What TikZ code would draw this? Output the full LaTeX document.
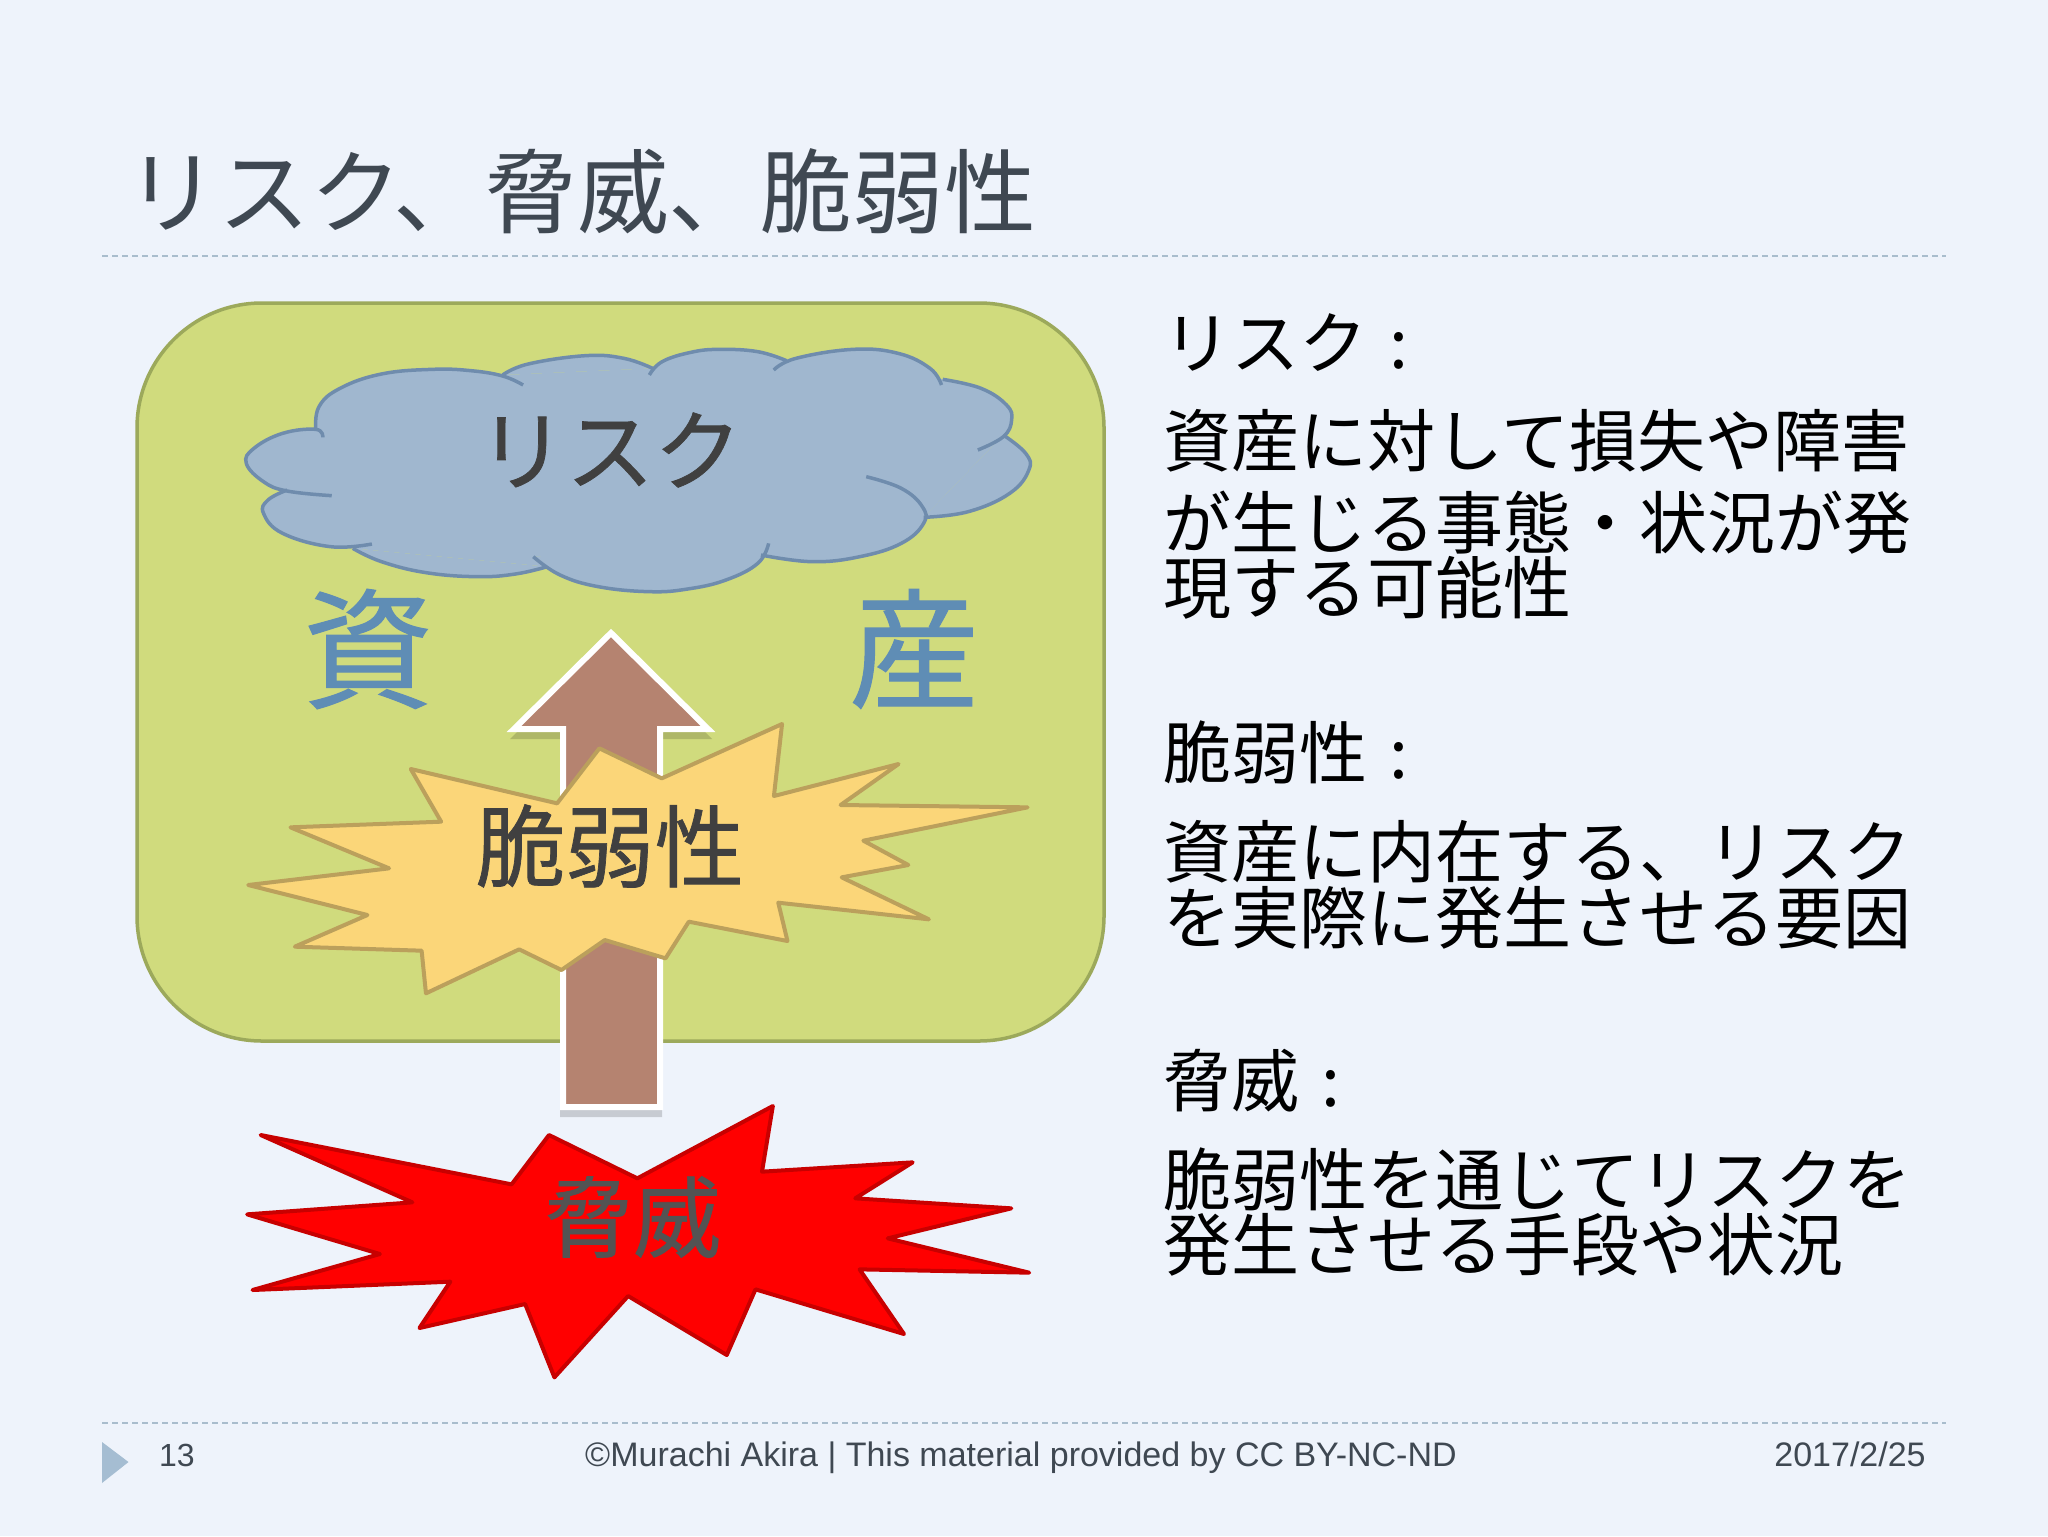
\documentclass[tikz,border=0pt]{standalone}
\usepackage{fontspec}
\setmainfont{Liberation Sans}
\newfontfamily\jp{Noto Sans CJK JP}
\newfontfamily\jph[FakeBold=0.8]{Noto Sans CJK JP}
\definecolor{bgc}{HTML}{EEF3FB}
\definecolor{dashc}{HTML}{A9BDCD}
\definecolor{titlec}{HTML}{3F4852}
\definecolor{assetf}{HTML}{D0DB7D}
\definecolor{assetl}{HTML}{9CA95B}
\definecolor{cloudf}{HTML}{A0B7CF}
\definecolor{cloudl}{HTML}{6F8CAD}
\definecolor{assett}{HTML}{5F8DB5}
\definecolor{arrowf}{HTML}{B58370}
\definecolor{burstf}{HTML}{FBD679}
\definecolor{burstl}{HTML}{BBA05C}
\definecolor{redl}{HTML}{C80000}
\definecolor{labelc}{HTML}{404040}
\definecolor{triac}{HTML}{A5BDD2}
\tikzset{
  body/.style={font=\jp\fontsize{34}{34}\selectfont,text=black,anchor=base west,inner sep=0pt},
  foot/.style={font=\fontsize{17}{17}\selectfont,text=titlec,anchor=base,inner sep=0pt},
  rule/.style={draw=dashc,line width=1pt,dash pattern=on 3pt off 2pt},
  arrowshape/.style={line width=3pt,miter limit=10},
  lobe/.style={smooth,tension=.7},
}
\newcommand{\cloudlobes}[1]{%
  \path[#1] plot[lobe] coordinates{(318,442)(307,418)(255,430)(210,475)(198,520)(225,575)(262,603)(332,617)};
  \path[#1] plot[lobe] coordinates{(262,600)(232,630)(225,670)(255,730)(330,770)(395,762)};
  \path[#1] plot[lobe] coordinates{(365,775)(410,815)(480,848)(560,860)(620,852)(670,830)};
  \path[#1] plot[lobe] coordinates{(648,800)(690,855)(750,890)(830,905)(890,897)(950,870)(1000,820)(1017,760)};
  \path[#1] plot[lobe] coordinates{(1005,795)(1085,815)(1160,800)(1225,760)(1260,700)(1258,650)(1225,595)(1170,560)};
  \path[#1] plot[lobe] coordinates{(1260,682)(1330,665)(1395,610)(1425,540)(1420,490)(1385,435)};
  \path[#1] plot[lobe] coordinates{(1345,480)(1385,440)(1398,390)(1390,345)(1350,295)(1290,268)};
  \path[#1] plot[lobe] coordinates{(1288,285)(1270,235)(1220,190)(1150,178)(1060,205)(1025,240)};
  \path[#1] plot[lobe] coordinates{(1045,212)(1000,185)(940,178)(895,187)(850,215)(830,255)};
  \path[#1] plot[lobe] coordinates{(835,235)(790,205)(730,197)(640,222)(600,255)};
  \path[#1] plot[lobe] coordinates{(632,285)(600,258)(550,242)(490,238)(410,252)(345,295)(312,350)(307,420)};
}
\newcommand{\arrowpath}{(611,633) -- (708,729) -- (660,729) -- (660,1107) -- (563,1107) -- (563,729) -- (514,729) -- cycle}
\begin{document}
\begin{tikzpicture}[x=0.5pt,y=-0.5pt]
\useasboundingbox (0,0) rectangle (2048,1536);
\fill[bgc] (0,0) rectangle (2048,1536);

% title
\node[font=\jp\fontsize{45.9}{46}\selectfont,text=titlec,anchor=base west,inner sep=0pt] (title) at (126,226) {リスク、脅威、脆弱性};
\draw[rule] (102,256) -- (1946,256);

% asset box
\draw[assetl,line width=1.75pt,fill=assetf,rounded corners=62.5pt] (137,303) rectangle (1104,1041);
\node[font=\jph\fontsize{65}{65}\selectfont,text=assett,inner sep=0pt] (shi) at (368,649) {資};
\node[font=\jph\fontsize{65}{65}\selectfont,text=assett,inner sep=0pt] (san) at (914,649) {産};

% cloud
\begin{scope}[shift={(120,290)},x=0.3189pt,y=-0.16667pt]
  \cloudlobes{fill=cloudf}
  \fill[cloudf] (307,420)--(262,603)--(365,775)--(670,830)--(648,800)--(1005,795)--(1260,682)--(1385,435)--(1290,268)--(1045,212)--(835,235)--(600,255)--cycle;
  \cloudlobes{draw=cloudl,line width=1.75pt}
\end{scope}
\node[font=\jph\fontsize{44}{44}\selectfont,text=labelc,inner sep=0pt] (risk) at (610,450) {リスク};

% arrow
\fill[black,opacity=.16,shift={(0,7)}] (611,631) -- (712,732) -- (662,732) -- (662,1110) -- (560,1110) -- (560,732) -- (510,732) -- cycle;
\draw[white,fill=arrowf,arrowshape] \arrowpath;

% vulnerability burst
\begin{scope}[shift={(220,620)},x=0.271pt,y=-0.16667pt]
\draw[burstl,fill=burstf,line width=2pt,line join=round]
 (1037,312)--(1022,528)--(1252,432)--(1145,555)--(1490,562)--(1187,662)--(1270,735)--(1147,772)--(1308,898)--(1030,848)--(1047,963)--(865,905)--(822,1015)--(710,960)--(630,1050)--(552,988)--(380,1120)--(372,992)--(138,980)--(272,885)--(52,795)--(312,745)--(130,622)--(408,605)--(352,447)--(622,550)--(700,385)--(815,475)--cycle;
\end{scope}
\node[font=\jph\fontsize{44.7}{45}\selectfont,text=labelc,inner sep=0pt] (vuln) at (610,846) {脆弱性};

% threat burst
\begin{scope}[shift={(220,1090)},x=0.271pt,y=-0.16667pt]
\draw[redl,fill=red,line width=2pt,line join=round]
 (1020,48)--(1000,245)--(1278,217)--(1172,325)--(1460,355)--(1232,445)--(1493,548)--(1180,538)--(1262,732)--(988,598)--(935,795)--(753,618)--(617,862)--(563,642)--(368,714)--(425,575)--(60,600)--(295,492)--(50,373)--(355,337)--(75,135)--(538,283)--(607,135)--(770,265)--cycle;
\end{scope}
\node[font=\jph\fontsize{44}{44}\selectfont,text=labelc!90!white,inner sep=0pt] (threat) at (633,1217) {脅威};

% right text
\node[body] (t1) at (1163,368) {リスク\hspace{11pt}:};
\node[body] (t2) at (1163,466) {資産に対して損失や障害};
\node[body] (t3) at (1163,548) {が生じる事態・状況が発};
\node[body] (t4) at (1163,613) {現する可能性};
\node[body] (t5) at (1163,778) {脆弱性\hspace{11pt}:};
\node[body] (t6) at (1163,877) {資産に内在する、リスク};
\node[body] (t7) at (1163,943) {を実際に発生させる要因};
\node[body] (t8) at (1163,1106) {脅威\hspace{11pt}:};
\node[body] (t9) at (1163,1205) {脆弱性を通じてリスクを};
\node[body] (t10) at (1163,1270) {発生させる手段や状況};

% footer
\draw[rule] (102,1423) -- (1946,1423);
\fill[triac] (102,1442) -- (128.5,1462) -- (102,1483) -- cycle;
\node[foot,font=\fontsize{16}{16}\selectfont] (num) at (177,1466) {13};
\node[foot] (copy) at (1021,1466) {©Murachi Akira | This material provided by CC BY-NC-ND};
\node[foot] (date) at (1850,1466) {2017/2/25};
\end{tikzpicture}
\end{document}
